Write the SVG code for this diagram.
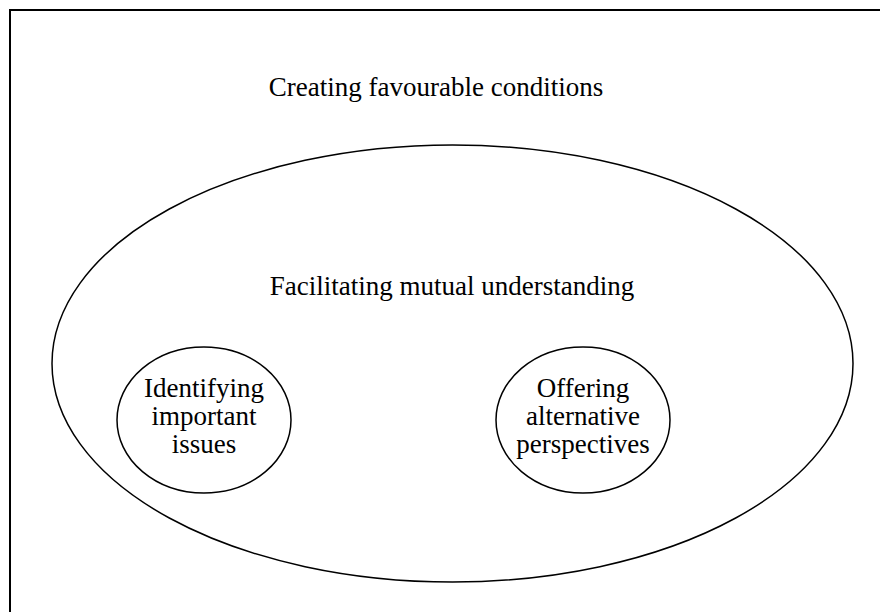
<svg xmlns="http://www.w3.org/2000/svg" width="880" height="612" viewBox="0 0 880 612">
<style>
.t{font-family:"Liberation Serif","Times New Roman",serif;font-size:27px;fill:#000;text-anchor:middle}
.e{fill:none;stroke:#000;stroke-width:1.5}
</style>
<rect width="880" height="612" fill="#fff"/>
<g id="frame"><rect x="10" y="10" width="900" height="620" fill="none" stroke="#000" stroke-width="2"/></g>
<g id="title"><text class="t" x="436" y="96">Creating favourable conditions</text></g>
<g id="mutual">
<ellipse class="e" cx="452.5" cy="363.5" rx="400.5" ry="218.5"/>
<text class="t" x="452" y="295">Facilitating mutual understanding</text>
</g>
<g id="identifying">
<ellipse class="e" cx="204" cy="420" rx="87" ry="73"/>
<text class="t" x="204" y="397">Identifying</text>
<text class="t" x="204" y="425">important</text>
<text class="t" x="204" y="453">issues</text>
</g>
<g id="offering">
<ellipse class="e" cx="583" cy="420" rx="87" ry="73"/>
<text class="t" x="583" y="397">Offering</text>
<text class="t" x="583" y="425">alternative</text>
<text class="t" x="583" y="453">perspectives</text>
</g>
<g id="connectors"/>
</svg>
